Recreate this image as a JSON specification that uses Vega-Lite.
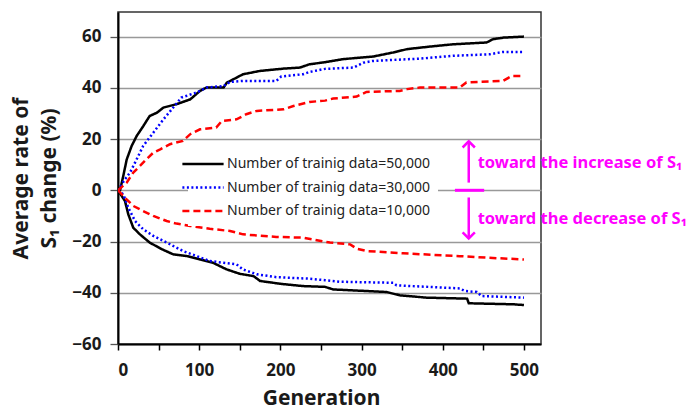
{
  "$schema": "https://vega.github.io/schema/vega-lite/v6.json",
  "width": 423,
  "height": 332,
  "autosize": {"type": "none"},
  "padding": {"left": 118, "top": 12, "right": 148, "bottom": 66},
  "background": "white",
  "config": {"view": {"stroke": "#333", "strokeWidth": 1.5}, "font": "Noto Sans"},
  "layer": [
    {
      "data": {"values": [
        {"n":"50,000","d":"up","g":0,"v":0},{"n":"50,000","d":"up","g":2.5,"v":0},{"n":"50,000","d":"up","g":6.5,"v":5.6},{"n":"50,000","d":"up","g":10.7,"v":12},{"n":"50,000","d":"up","g":16.8,"v":17.3},{"n":"50,000","d":"up","g":23,"v":21.2},{"n":"50,000","d":"up","g":31,"v":25},{"n":"50,000","d":"up","g":39,"v":29},{"n":"50,000","d":"up","g":48,"v":30.3},{"n":"50,000","d":"up","g":56,"v":32.3},{"n":"50,000","d":"up","g":72,"v":33.6},{"n":"50,000","d":"up","g":89,"v":35.5},{"n":"50,000","d":"up","g":101,"v":38.8},{"n":"50,000","d":"up","g":109,"v":40.1},{"n":"50,000","d":"up","g":130,"v":40.1},{"n":"50,000","d":"up","g":134,"v":42},{"n":"50,000","d":"up","g":154,"v":45.3},{"n":"50,000","d":"up","g":175,"v":46.6},{"n":"50,000","d":"up","g":204,"v":47.5},{"n":"50,000","d":"up","g":224,"v":47.9},{"n":"50,000","d":"up","g":236,"v":49.2},{"n":"50,000","d":"up","g":255,"v":50},{"n":"50,000","d":"up","g":277,"v":51.2},{"n":"50,000","d":"up","g":314,"v":52.2},{"n":"50,000","d":"up","g":339,"v":53.8},{"n":"50,000","d":"up","g":356,"v":55.1},{"n":"50,000","d":"up","g":384,"v":56.1},{"n":"50,000","d":"up","g":413,"v":57},{"n":"50,000","d":"up","g":454,"v":57.7},{"n":"50,000","d":"up","g":462,"v":59},{"n":"50,000","d":"up","g":475,"v":59.6},{"n":"50,000","d":"up","g":500,"v":60},
        {"n":"50,000","d":"down","g":0,"v":0},{"n":"50,000","d":"down","g":8.6,"v":-4.2},{"n":"50,000","d":"down","g":12.7,"v":-9.4},{"n":"50,000","d":"down","g":18.8,"v":-14.6},{"n":"50,000","d":"down","g":27,"v":-17.2},{"n":"50,000","d":"down","g":39,"v":-20.4},{"n":"50,000","d":"down","g":54,"v":-23},{"n":"50,000","d":"down","g":68,"v":-25},{"n":"50,000","d":"down","g":85,"v":-25.7},{"n":"50,000","d":"down","g":101,"v":-27},{"n":"50,000","d":"down","g":117,"v":-28.3},{"n":"50,000","d":"down","g":134,"v":-30.9},{"n":"50,000","d":"down","g":150,"v":-32.6},{"n":"50,000","d":"down","g":167,"v":-33.5},{"n":"50,000","d":"down","g":175,"v":-35.4},{"n":"50,000","d":"down","g":200,"v":-36.5},{"n":"50,000","d":"down","g":228,"v":-37.4},{"n":"50,000","d":"down","g":255,"v":-37.7},{"n":"50,000","d":"down","g":265,"v":-38.7},{"n":"50,000","d":"down","g":331,"v":-39.7},{"n":"50,000","d":"down","g":347,"v":-41},{"n":"50,000","d":"down","g":380,"v":-41.9},{"n":"50,000","d":"down","g":430,"v":-42.3},{"n":"50,000","d":"down","g":432,"v":-44.1},{"n":"50,000","d":"down","g":487,"v":-44.5},{"n":"50,000","d":"down","g":500,"v":-44.8},
        {"n":"30,000","d":"up","g":0,"v":0},{"n":"30,000","d":"up","g":8.6,"v":4.3},{"n":"30,000","d":"up","g":14.8,"v":6.9},{"n":"30,000","d":"up","g":23,"v":12.1},{"n":"30,000","d":"up","g":31,"v":17.3},{"n":"30,000","d":"up","g":43.5,"v":22.5},{"n":"30,000","d":"up","g":56,"v":27.7},{"n":"30,000","d":"up","g":68,"v":32.3},{"n":"30,000","d":"up","g":78,"v":36.2},{"n":"30,000","d":"up","g":97,"v":38.2},{"n":"30,000","d":"up","g":109,"v":40.1},{"n":"30,000","d":"up","g":130,"v":40.7},{"n":"30,000","d":"up","g":138,"v":42.3},{"n":"30,000","d":"up","g":154,"v":42.7},{"n":"30,000","d":"up","g":195,"v":42.7},{"n":"30,000","d":"up","g":201,"v":44.4},{"n":"30,000","d":"up","g":228,"v":45.3},{"n":"30,000","d":"up","g":236,"v":46.2},{"n":"30,000","d":"up","g":255,"v":47.4},{"n":"30,000","d":"up","g":290,"v":47.9},{"n":"30,000","d":"up","g":302,"v":49.8},{"n":"30,000","d":"up","g":314,"v":50.5},{"n":"30,000","d":"up","g":372,"v":51.4},{"n":"30,000","d":"up","g":413,"v":52.5},{"n":"30,000","d":"up","g":458,"v":53.1},{"n":"30,000","d":"up","g":474,"v":54},{"n":"30,000","d":"up","g":500,"v":54},
        {"n":"30,000","d":"down","g":0,"v":0},{"n":"30,000","d":"down","g":6.5,"v":-1.6},{"n":"30,000","d":"down","g":12.7,"v":-6.8},{"n":"30,000","d":"down","g":21,"v":-12},{"n":"30,000","d":"down","g":31,"v":-15.2},{"n":"30,000","d":"down","g":43.5,"v":-17.8},{"n":"30,000","d":"down","g":60,"v":-20.4},{"n":"30,000","d":"down","g":80,"v":-23.7},{"n":"30,000","d":"down","g":97,"v":-25.7},{"n":"30,000","d":"down","g":113,"v":-27.6},{"n":"30,000","d":"down","g":130,"v":-28.3},{"n":"30,000","d":"down","g":146,"v":-28.9},{"n":"30,000","d":"down","g":154,"v":-30.9},{"n":"30,000","d":"down","g":171,"v":-32.8},{"n":"30,000","d":"down","g":195,"v":-33.9},{"n":"30,000","d":"down","g":236,"v":-34.5},{"n":"30,000","d":"down","g":255,"v":-35.1},{"n":"30,000","d":"down","g":273,"v":-35.7},{"n":"30,000","d":"down","g":339,"v":-36.1},{"n":"30,000","d":"down","g":343,"v":-37.1},{"n":"30,000","d":"down","g":421,"v":-38.3},{"n":"30,000","d":"down","g":427,"v":-39.3},{"n":"30,000","d":"down","g":442,"v":-39.7},{"n":"30,000","d":"down","g":448,"v":-41.3},{"n":"30,000","d":"down","g":500,"v":-41.9},
        {"n":"10,000","d":"up","g":0,"v":0},{"n":"10,000","d":"up","g":10.7,"v":3},{"n":"10,000","d":"up","g":18.8,"v":6.9},{"n":"10,000","d":"up","g":27,"v":9.5},{"n":"10,000","d":"up","g":35,"v":12.1},{"n":"10,000","d":"up","g":43.5,"v":14.7},{"n":"10,000","d":"up","g":52,"v":16},{"n":"10,000","d":"up","g":64,"v":18},{"n":"10,000","d":"up","g":80,"v":19.3},{"n":"10,000","d":"up","g":89,"v":21.9},{"n":"10,000","d":"up","g":101,"v":23.8},{"n":"10,000","d":"up","g":121,"v":24.5},{"n":"10,000","d":"up","g":128,"v":27.1},{"n":"10,000","d":"up","g":146,"v":27.7},{"n":"10,000","d":"up","g":158,"v":29.7},{"n":"10,000","d":"up","g":171,"v":31},{"n":"10,000","d":"up","g":204,"v":31.6},{"n":"10,000","d":"up","g":216,"v":32.9},{"n":"10,000","d":"up","g":236,"v":34.5},{"n":"10,000","d":"up","g":255,"v":35},{"n":"10,000","d":"up","g":265,"v":35.8},{"n":"10,000","d":"up","g":294,"v":36.6},{"n":"10,000","d":"up","g":306,"v":38.4},{"n":"10,000","d":"up","g":347,"v":38.8},{"n":"10,000","d":"up","g":356,"v":39.5},{"n":"10,000","d":"up","g":372,"v":40.1},{"n":"10,000","d":"up","g":421,"v":40.1},{"n":"10,000","d":"up","g":429,"v":42.1},{"n":"10,000","d":"up","g":474,"v":42.7},{"n":"10,000","d":"up","g":485,"v":44.6},{"n":"10,000","d":"up","g":500,"v":44.6},
        {"n":"10,000","d":"down","g":0,"v":0},{"n":"10,000","d":"down","g":8.6,"v":-2.9},{"n":"10,000","d":"down","g":18.8,"v":-6.1},{"n":"10,000","d":"down","g":31,"v":-8.1},{"n":"10,000","d":"down","g":43.5,"v":-10},{"n":"10,000","d":"down","g":60,"v":-12},{"n":"10,000","d":"down","g":72,"v":-13},{"n":"10,000","d":"down","g":89,"v":-13.9},{"n":"10,000","d":"down","g":113,"v":-15},{"n":"10,000","d":"down","g":138,"v":-15.9},{"n":"10,000","d":"down","g":154,"v":-17.2},{"n":"10,000","d":"down","g":195,"v":-18.2},{"n":"10,000","d":"down","g":228,"v":-18.5},{"n":"10,000","d":"down","g":250,"v":-19.8},{"n":"10,000","d":"down","g":261,"v":-20.4},{"n":"10,000","d":"down","g":286,"v":-21.1},{"n":"10,000","d":"down","g":294,"v":-22.8},{"n":"10,000","d":"down","g":306,"v":-23.7},{"n":"10,000","d":"down","g":351,"v":-24.6},{"n":"10,000","d":"down","g":421,"v":-25.7},{"n":"10,000","d":"down","g":454,"v":-26.3},{"n":"10,000","d":"down","g":500,"v":-27}
      ]},
      "mark": {"type": "line", "strokeWidth": 2.5, "clip": true},
      "encoding": {
        "x": {"field": "g", "type": "quantitative",
          "scale": {"domain": [0, 521], "nice": false, "zero": false},
          "axis": {"values": [0,50,100,150,200,250,300,350,400,450,500],
            "labelExpr": "datum.value % 100 === 0 ? datum.label : ''",
            "grid": false, "domainColor": "#000", "domainWidth": 2,
            "tickColor": "#000", "tickWidth": 1.5, "tickSize": 6,
            "labelFontSize": 17, "labelFontWeight": "bold", "labelColor": "#1a1a1a", "labelPadding": 12,
            "title": "Generation", "titleFontSize": 21, "titleFontWeight": "bold", "titleColor": "#1a1a1a",
            "titleX": 203, "titlePadding": 9}},
        "y": {"field": "v", "type": "quantitative",
          "scale": {"domain": [-60, 69.6], "nice": false, "zero": false},
          "axis": {"values": [-60,-40,-20,0,20,40,60],
            "grid": true, "gridColor": "#999", "gridWidth": 1.3,
            "domainColor": "#000", "domainWidth": 2,
            "tickColor": "#555", "tickWidth": 1.3, "tickSize": 8,
            "labelFontSize": 17, "labelFontWeight": "bold", "labelColor": "#1a1a1a", "labelPadding": 9,
            "title": ["Average rate of", "S₁ change (%)"], "titleFontSize": 21, "titleFontWeight": "bold", "titleColor": "#1a1a1a",
            "titleLineHeight": 28, "titlePadding": 12}},
        "color": {"field": "n", "type": "nominal",
          "scale": {"domain": ["50,000", "30,000", "10,000"], "range": ["#000000", "#0000FF", "#FF0000"]},
          "legend": {"title": null, "orient": "none", "legendX": 70, "legendY": 137,
            "labelExpr": "'Number of trainig data=' + datum.label", "labelLimit": 400,
            "symbolType": "M-5,0H5", "symbolSize": 68, "symbolStrokeWidth": 2.5,
            "labelFontSize": 14, "labelColor": "#222", "labelOffset": 17,
            "fillColor": "white", "padding": 8, "rowPadding": 9.5}},
        "strokeDash": {"field": "n", "type": "nominal",
          "scale": {"domain": ["50,000", "30,000", "10,000"], "range": [[1, 0], [2, 2.5], [7, 4]]},
          "legend": {"title": null, "orient": "none", "legendX": 70, "legendY": 137,
            "labelExpr": "'Number of trainig data=' + datum.label", "labelLimit": 400,
            "symbolType": "M-5,0H5", "symbolSize": 68, "symbolStrokeWidth": 2.5,
            "labelFontSize": 14, "labelColor": "#222", "labelOffset": 17,
            "fillColor": "white", "padding": 8, "rowPadding": 9.5}},
        "detail": {"field": "d", "type": "nominal"}
      }
    },
    {
      "data": {"values": [{"label": "-"}]},
      "mark": {"type": "rule", "color": "#FF00FF", "strokeWidth": 3},
      "encoding": {"x": {"datum": 415}, "x2": {"datum": 451}, "y": {"datum": 0}}
    },
    {
      "data": {"values": [{"label": "up"}]},
      "mark": {"type": "rule", "color": "#FF00FF", "strokeWidth": 2.5},
      "encoding": {"x": {"datum": 432}, "y": {"datum": 3}, "y2": {"datum": 19}}
    },
    {
      "data": {"values": [{"label": "down"}]},
      "mark": {"type": "rule", "color": "#FF00FF", "strokeWidth": 2.5},
      "encoding": {"x": {"datum": 432}, "y": {"datum": -2.8}, "y2": {"datum": -18.8}}
    },
    {
      "data": {"values": [{"label": "up"}]},
      "mark": {"type": "point", "shape": "M-1,1L0,0L1,1", "size": 150, "filled": false, "stroke": "#FF00FF", "strokeWidth": 2.5, "opacity": 1},
      "encoding": {"x": {"datum": 432}, "y": {"datum": 19.1}}
    },
    {
      "data": {"values": [{"label": "down"}]},
      "mark": {"type": "point", "shape": "M-1,-1L0,0L1,-1", "size": 150, "filled": false, "stroke": "#FF00FF", "strokeWidth": 2.5, "opacity": 1},
      "encoding": {"x": {"datum": 432}, "y": {"datum": -18.8}}
    },
    {
      "data": {"values": [{"label": "toward the increase of S₁"}]},
      "mark": {"type": "text", "color": "#FF00FF", "fontSize": 16.5, "fontWeight": "bold", "align": "left", "baseline": "middle"},
      "encoding": {"x": {"datum": 443}, "y": {"datum": 10.5}, "text": {"field": "label"}}
    },
    {
      "data": {"values": [{"label": "toward the decrease of S₁"}]},
      "mark": {"type": "text", "color": "#FF00FF", "fontSize": 16.5, "fontWeight": "bold", "align": "left", "baseline": "middle"},
      "encoding": {"x": {"datum": 443}, "y": {"datum": -11.2}, "text": {"field": "label"}}
    }
  ]
}
